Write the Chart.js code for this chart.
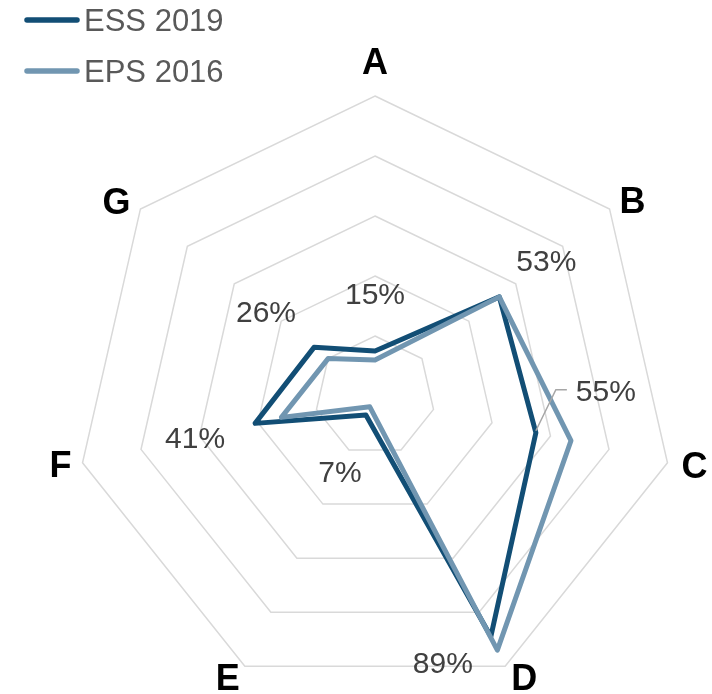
<!DOCTYPE html>
<html>
<head>
<meta charset="utf-8">
<script src="https://cdn.jsdelivr.net/npm/chart.js@4/dist/chart.umd.min.js"></script>
<style>
  html, body { margin: 0; padding: 0; background: #fff; overflow: hidden; }
  canvas { display: block; }
</style>
</head>
<body>
<canvas id="radar" width="712" height="700"></canvas>
<script>
// datos del gráfico
const categorias = ['A', 'B', 'C', 'D', 'E', 'F', 'G'];
const ess2019 = [15, 53, 55, 89, 7, 41, 26];
const eps2016 = [12, 53, 67, 94, 4, 32, 20];
const etiquetas = ['15%', '53%', '55%', '89%', '7%', '41%', '26%'];

const colorOscuro = '#124e75';
const colorClaro = '#7196b1';
const fuente = '"Liberation Sans", Arial, sans-serif';

// desplazamientos de las etiquetas de datos respecto al punto (px)
const offsetsEtiquetas = [[0, -58], [47, -37], [70, -42], [-48, 26], [-26, 56], [-60, 14], [-48, -36]];
// desplazamientos de las letras respecto al vértice exterior (px)
const offsetsEjes = [[0, -35], [23, -9], [27, 2], [19, 11], [-17, 11], [-22, 1], [-24, -8]];

// Plugin para dibujar letras, etiquetas y leyenda
const extras = {
    id: 'extras',
    afterDatasetsDraw(chart) {
        const c = chart.ctx;
        const r = chart.scales.r;
        c.save();

        // letras de los ejes
        c.fillStyle = '#000';
        c.font = 'bold 36px ' + fuente;
        c.textAlign = 'center';
        c.textBaseline = 'alphabetic';
        categorias.forEach((cat, i) => {
            const p = r.getPointPosition(i, r.drawingArea);
            c.fillText(cat, p.x + offsetsEjes[i][0], p.y + offsetsEjes[i][1] + 36 * 0.358);
        });

        // etiquetas de ESS 2019
        const meta = chart.getDatasetMeta(0);
        c.font = '30px ' + fuente;
        c.fillStyle = '#404040';
        meta.data.forEach((pt, i) => {
            const x = pt.x + offsetsEtiquetas[i][0];
            const y = pt.y + offsetsEtiquetas[i][1];
            c.fillText(etiquetas[i], x, y + 30 * 0.358);
        });

        // línea guía de la etiqueta C
        const pc = meta.data[2];
        c.strokeStyle = '#a6a6a6';
        c.lineWidth = 1.5;
        c.beginPath();
        c.moveTo(pc.x, pc.y - 2);
        c.lineTo(pc.x + 20, pc.y - 43);
        c.lineTo(pc.x + 31, pc.y - 43);
        c.stroke();

        // leyenda
        const items = [['ESS 2019', colorOscuro, 20], ['EPS 2016', colorClaro, 71]];
        c.font = '31px ' + fuente;
        c.textAlign = 'left';
        c.lineCap = 'round';
        items.forEach(([txt, col, y]) => {
            c.strokeStyle = col;
            c.lineWidth = 5.5;
            c.beginPath();
            c.moveTo(27, y);
            c.lineTo(77, y);
            c.stroke();
            c.fillStyle = '#595959';
            c.fillText(txt, 84, y + 31 * 0.358);
        });
        c.restore();
    }
};

const ctx = document.getElementById('radar').getContext('2d');
const myChart = new Chart(ctx, {
    type: 'radar',
    data: {
        labels: categorias,
        datasets: [
            {
                label: 'ESS 2019',
                data: ess2019,
                borderColor: colorOscuro,
                borderWidth: 5,
                borderJoinStyle: 'round',
                fill: false,
                pointRadius: 0,
                order: 1
            },
            {
                label: 'EPS 2016',
                data: eps2016,
                borderColor: colorClaro,
                borderWidth: 5,
                borderJoinStyle: 'round',
                fill: false,
                pointRadius: 0,
                order: 0
            }
        ]
    },
    options: {
        responsive: false,
        animation: false,
        layout: { padding: { left: 75, right: 37, top: 96, bottom: 4 } },
        plugins: { legend: { display: false }, tooltip: { enabled: false } },
        elements: { line: { tension: 0 } },
        scales: {
            r: {
                min: 0,
                max: 100,
                ticks: { display: false, stepSize: 20 },
                grid: { color: '#d9d9d9', lineWidth: 1.5 },
                angleLines: { display: false },
                pointLabels: { display: false }
            }
        }
    },
    plugins: [extras]
});
</script>
</body>
</html>
